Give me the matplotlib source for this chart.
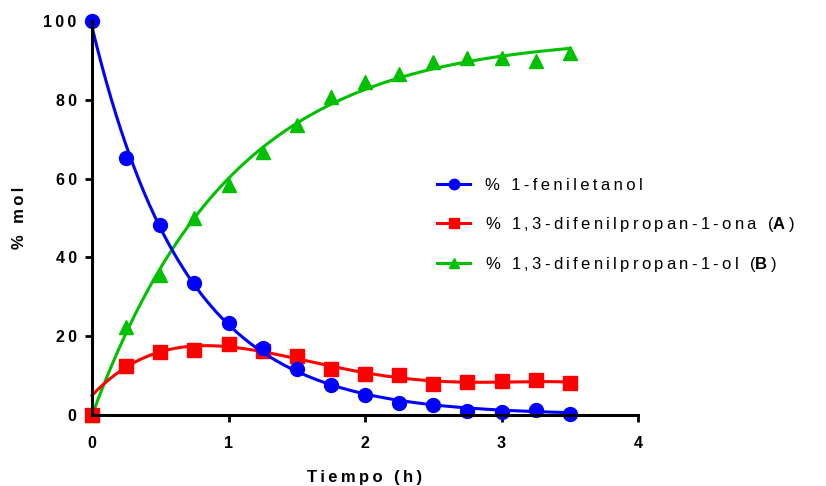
import matplotlib
matplotlib.use("Agg")
import matplotlib.pyplot as plt
import numpy as np

plt.rcParams['font.family'] = ['Liberation Sans', 'DejaVu Sans']
plt.rcParams['mathtext.fontset'] = 'custom'
plt.rcParams['mathtext.rm'] = 'Liberation Sans'
plt.rcParams['mathtext.bf'] = 'Liberation Sans:bold'

# data
tiempo = [0, 0.25, 0.5, 0.75, 1, 1.25, 1.5, 1.75, 2, 2.25, 2.5, 2.75, 3, 3.25, 3.5]
feniletanol = [100, 65.2, 48.2, 33.4, 23.4, 17.1, 11.6, 7.6, 5.1, 3.1, 2.5, 1.1, 0.8, 1.2, 0.3]
cetona_A = [0, 12.4, 15.9, 16.6, 18.0, 16.2, 15.0, 11.8, 10.3, 10.2, 7.9, 8.3, 8.6, 8.8, 8.1]
alcohol_B = [0, 22.3, 35.6, 50.0, 58.5, 66.8, 73.6, 80.6, 84.4, 86.6, 89.5, 90.6, 90.6, 89.9, 91.8]

etiquetas = ['% 1-feniletanol', '% 1,3-difenilpropan-1-ona (', '% 1,3-difenilpropan-1-ol (']
negritas = ['', 'A', 'B']
xticks = [0, 1, 2, 3, 4]
yticks = [0, 20, 40, 60, 80, 100]

t = np.array(tiempo)
ts = np.linspace(0, 3.5, 300)


# least squares fit over a grid of rate constants
def ajuste(y, base):
    y = np.array(y)
    mejor = None
    for k in np.linspace(0.2, 4, 400):
        M = base(t, k)
        c, *_ = np.linalg.lstsq(M, y, rcond=None)
        err = np.sum((M @ c - y) ** 2)
        if mejor is None or err < mejor[0]:
            mejor = (err, k, c)
    return base(ts, mejor[1]) @ mejor[2]


curva_f = ajuste(feniletanol, lambda x, k: np.column_stack([np.exp(-k * x)]))
curva_B = ajuste(alcohol_B, lambda x, k: np.column_stack([1 - np.exp(-k * x), np.ones_like(x)]))
# the first point is left out of the fit, as the curve starts a bit above 0
curva_A = np.polyval(np.polyfit(t[1:], cetona_A[1:], 4), ts)


def espaciado(s):
    return '\u2009'.join(s)


fig = plt.figure(figsize=(8.26, 4.86), dpi=100)
ax = fig.add_axes([92 / 826, 1 - 415 / 486, 546 / 826, 394 / 486])

lw = 2.2
lB, = ax.plot(ts, curva_B, color='#00C000', lw=lw, clip_on=False)
pB, = ax.plot(t, alcohol_B, '^', color='#00C000', ms=10, clip_on=False)
lA, = ax.plot(ts, curva_A, color='#FF0000', lw=lw, clip_on=False)
pA, = ax.plot(t, cetona_A, 's', color='#FF0000', ms=9.5, clip_on=False)
lf, = ax.plot(ts, curva_f, color='#0000FF', lw=lw, clip_on=False)
pf, = ax.plot(t, feniletanol, 'o', color='#0000FF', ms=10, clip_on=False)

ax.set_xlim(0, 4)
ax.set_ylim(0, 100)
ax.set_xticks(xticks)
ax.set_yticks(yticks)
ax.set_xticklabels([espaciado(str(v)) for v in xticks], fontsize=11.5, fontweight='bold')
ax.set_yticklabels([espaciado(str(v)) for v in yticks], fontsize=11.5, fontweight='bold')
for s in ['top', 'right']:
    ax.spines[s].set_visible(False)
for s in ['left', 'bottom']:
    ax.spines[s].set_linewidth(2.2)
ax.tick_params(width=2, length=5)
ax.tick_params(axis='x', pad=10)
ax.tick_params(axis='y', pad=6)

ax.set_xlabel(espaciado('Tiempo (h)'), fontsize=12, fontweight='bold', labelpad=14)
ax.set_ylabel(espaciado('% mol'), fontsize=12, fontweight='bold', labelpad=12)

textos = []
for e, n in zip(etiquetas, negritas):
    if n:
        textos.append(espaciado(e) + '$\\mathbf{' + n + '}$' + '\u2009' + ')')
    else:
        textos.append(espaciado(e))

fig.legend([(lf, pf), (lA, pA), (lB, pB)], textos, loc='center left',
           bbox_to_anchor=(422 / 826, 1 - 226 / 486), frameon=False, fontsize=12,
           handlelength=2.0, handletextpad=0.9, labelspacing=1.3, markerscale=0.75)

fig.savefig('out.png', dpi=100)
